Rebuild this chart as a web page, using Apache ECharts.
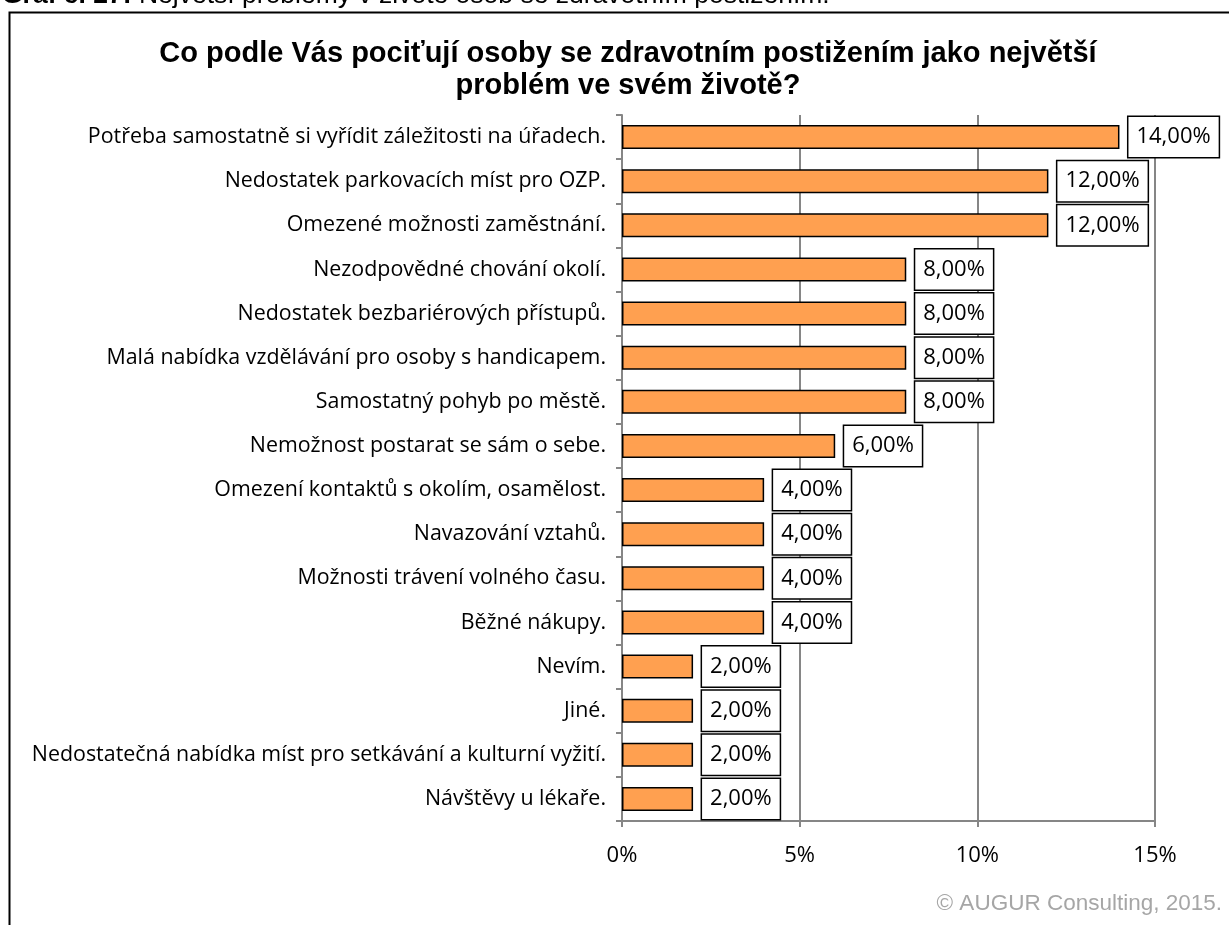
<!DOCTYPE html>
<html>
<head>
<meta charset="utf-8">
<script src="https://cdn.jsdelivr.net/npm/echarts@6/dist/echarts.min.js"></script>
<style>
html, body { margin: 0; padding: 0; background: #fff; }
#chart { width: 1229px; height: 925px; }
</style>
</head>
<body>
<div id="chart"></div>
<script>
var categories = [
    'Potřeba samostatně si vyřídit záležitosti na úřadech.',
    'Nedostatek parkovacích míst pro OZP.',
    'Omezené možnosti zaměstnání.',
    'Nezodpovědné chování okolí.',
    'Nedostatek bezbariérových přístupů.',
    'Malá nabídka vzdělávání pro osoby s handicapem.',
    'Samostatný pohyb po městě.',
    'Nemožnost postarat se sám o sebe.',
    'Omezení kontaktů s okolím, osamělost.',
    'Navazování vztahů.',
    'Možnosti trávení volného času.',
    'Běžné nákupy.',
    'Nevím.',
    'Jiné.',
    'Nedostatečná nabídka míst pro setkávání a kulturní vyžití.',
    'Návštěvy u lékaře.'
];
var values = [14, 12, 12, 8, 8, 8, 8, 6, 4, 4, 4, 4, 2, 2, 2, 2];
var xTicks = [0, 5, 10, 15];

var chart = echarts.init(document.getElementById('chart'));
chart.setOption({
    animation: false,
    textStyle: { fontFamily: 'Open Sans' },
    graphic: [
        {
            type: 'rect',
            shape: { x: 9.5, y: 12.5, width: 1240, height: 940 },
            style: { fill: 'none', stroke: '#000', lineWidth: 2 }
        },
        {
            type: 'text',
            x: 2, y: 9,
            style: {
                text: '{b|Graf č. 27:} Největší problémy v životě osob se zdravotním postižením.',
                font: '26.5px Liberation Sans',
                fill: '#000',
                verticalAlign: 'bottom',
                rich: { b: { fontWeight: 'bold', fontSize: 26.5, fontFamily: 'Liberation Sans' } }
            }
        },
        {
            type: 'text',
            x: 628, y: 38,
            style: {
                text: 'Co podle Vás pociťují osoby se zdravotním postižením jako největší\nproblém ve svém životě?',
                font: 'bold 29px Liberation Sans',
                fill: '#000',
                align: 'center',
                lineHeight: 32
            }
        },
        {
            type: 'text',
            x: 1222, y: 892,
            style: {
                text: '© AUGUR Consulting, 2015.',
                font: '22.5px Liberation Sans',
                fill: '#a6a6a6',
                align: 'right'
            }
        }
    ],
    grid: { left: 622, right: 74, top: 115, bottom: 104 },
    xAxis: {
        type: 'value',
        min: 0, max: 15, interval: 5,
        axisLine: { show: true, lineStyle: { color: '#868686', width: 2 } },
        axisTick: { show: true, length: 6, lineStyle: { color: '#868686', width: 2 } },
        axisLabel: {
            margin: 24, fontSize: 22, color: '#000',
            formatter: function (v) { return xTicks.indexOf(v) >= 0 ? v + '%' : ''; }
        },
        splitLine: { show: true, lineStyle: { color: '#868686', width: 2 } }
    },
    yAxis: {
        type: 'category',
        data: categories,
        inverse: true,
        axisLine: { show: true, lineStyle: { color: '#868686', width: 2 } },
        axisTick: { show: true, length: 6, lineStyle: { color: '#868686', width: 2 } },
        axisLabel: { margin: 16, fontSize: 21.4, color: '#000' }
    },
    series: [{
        type: 'bar',
        data: values,
        barWidth: 24,
        itemStyle: { color: '#FFA050', borderColor: '#000', borderWidth: 1.5 },
        label: {
            show: true,
            position: 'right',
            distance: 9,
            formatter: function (p) { return p.value.toFixed(2).replace('.', ',') + '%'; },
            fontSize: 22,
            lineHeight: 28,
            color: '#000',
            backgroundColor: '#fff',
            borderColor: '#000',
            borderWidth: 1.5,
            padding: [7, 8, 5, 8]
        }
    }]
});
</script>
</body>
</html>
